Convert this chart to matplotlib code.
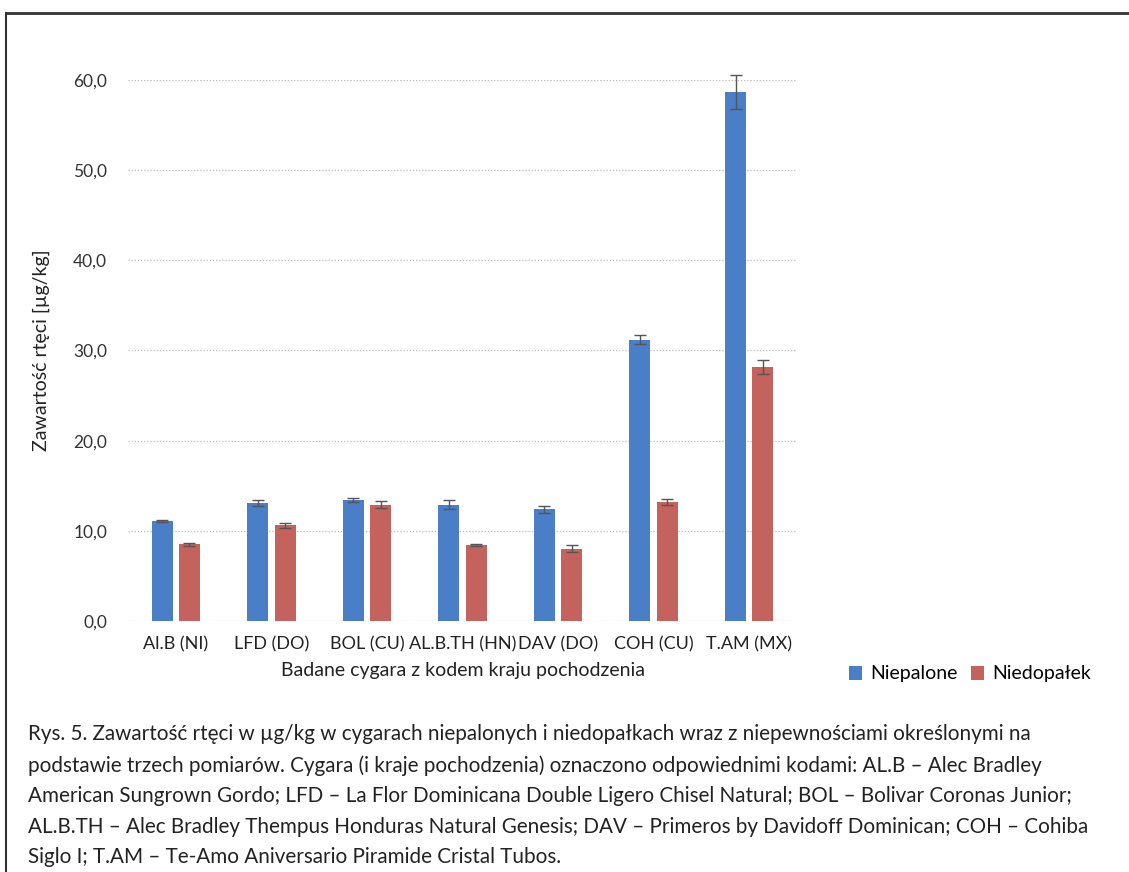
import matplotlib
matplotlib.use("Agg")
from matplotlib import pyplot as plt
from matplotlib.lines import Line2D
import numpy as np

plt.rcParams['font.family'] = ['Lato', 'DejaVu Sans']

cigars = ["Al.B (NI)", "LFD (DO)", "BOL (CU)", "AL.B.TH (HN)", "DAV (DO)", "COH (CU)", "T.AM (MX)"]
unsmoked = [11.1, 13.1, 13.4, 12.9, 12.4, 31.2, 58.7]
unsmoked_err = [0.1, 0.3, 0.2, 0.5, 0.4, 0.5, 1.9]
butts = [8.5, 10.6, 12.9, 8.4, 8.0, 13.2, 28.2]
butts_err = [0.2, 0.3, 0.4, 0.1, 0.4, 0.3, 0.8]
yticks = [0, 10, 20, 30, 40, 50, 60]

caption = ("Rys. 5. Zawartość rtęci w µg/kg w cygarach niepalonych i niedopałkach wraz z niepewnościami określonymi na\n"
           "podstawie trzech pomiarów. Cygara (i kraje pochodzenia) oznaczono odpowiednimi kodami: AL.B – Alec Bradley\n"
           "American Sungrown Gordo; LFD – La Flor Dominicana Double Ligero Chisel Natural; BOL – Bolivar Coronas Junior;\n"
           "AL.B.TH – Alec Bradley Thempus Honduras Natural Genesis; DAV – Primeros by Davidoff Dominican; COH – Cohiba\n"
           "Siglo I; T.AM – Te-Amo Aniversario Piramide Cristal Tubos.")

blue = "#4a7ec6"
red = "#c4625e"

fig = plt.figure(figsize=(11.29, 8.72), dpi=100)
ax = fig.add_axes([128 / 1129, 1 - 621 / 872, 669 / 1129, 541 / 872])

x = np.arange(len(cigars))
w = 0.22
err_kw = dict(ecolor="#555555", elinewidth=1, capsize=4, capthick=1)
ax.bar(x - 0.143, unsmoked, w, yerr=unsmoked_err, color=blue, label="Niepalone",
       error_kw=err_kw, zorder=3)
ax.bar(x + 0.143, butts, w, yerr=butts_err, color=red, label="Niedopałek",
       error_kw=err_kw, zorder=3)
for coll in ax.collections + ax.lines:
    coll.set_clip_on(False)

ax.set_xlim(-0.5, len(cigars) - 0.5)
ax.set_ylim(0, 60)
ax.set_yticks(yticks)
ax.set_yticklabels([f"{v:.1f}".replace(".", ",") for v in yticks], fontsize=12.5, color="#333333")
ax.set_xticks(x)
ax.set_xticklabels(cigars, fontsize=13, color="#222222")
ax.tick_params(axis="x", length=0, pad=11)
ax.tick_params(axis="y", length=0, pad=15)
ax.grid(axis="y", linestyle=(0, (1, 1.5)), color="#bbbbbb", linewidth=0.9, zorder=0)
ax.set_axisbelow(True)
for s in ax.spines.values():
    s.set_visible(False)

ax.set_ylabel("Zawartość rtęci [µg/kg]", fontsize=14, labelpad=17, color="#222222")
ax.set_xlabel("Badane cygara z kodem kraju pochodzenia", fontsize=14, labelpad=7, color="#222222")

fig.legend(loc="center left", bbox_to_anchor=(831 / 1129, 1 - 674 / 872), ncol=2, frameon=False,
           fontsize=14, handlelength=0.7, handleheight=0.7, handletextpad=0.4, columnspacing=0.7)

fig.text(28 / 1129, 1 - 724 / 872, caption, fontsize=14.9, va="top", ha="left",
         linespacing=1.66, color="#222222")

# scanned page frame
fig.add_artist(Line2D([6 / 1129, 1], [1 - 13 / 872, 1 - 13 / 872], color="#333333", linewidth=2))
fig.add_artist(Line2D([6 / 1129, 6 / 1129], [0, 1 - 13 / 872], color="#333333", linewidth=1.5))

fig.savefig("out.png", dpi=100)
